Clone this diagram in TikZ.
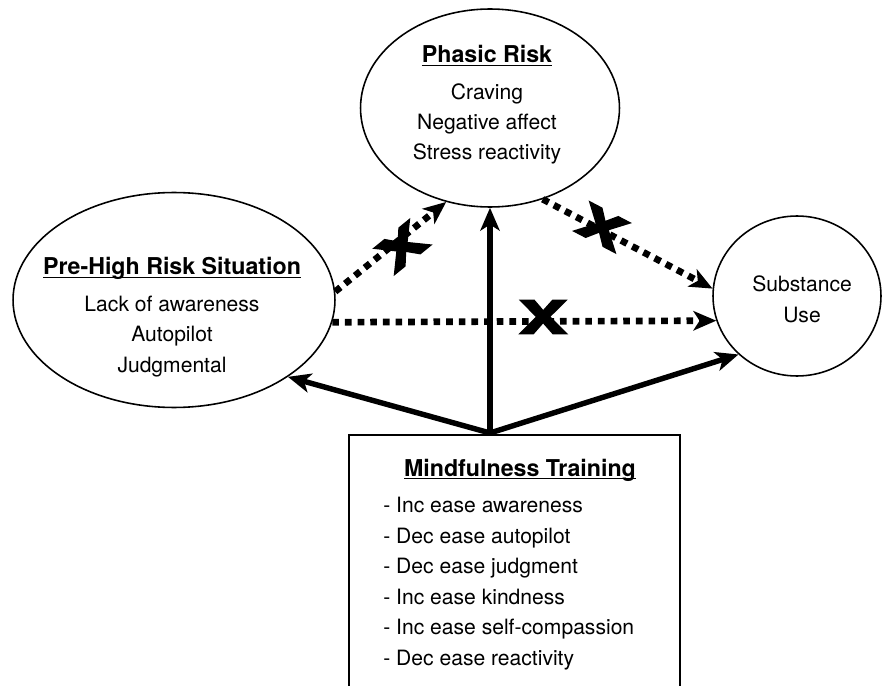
\documentclass[tikz,border=0pt]{standalone}
\usepackage{fontspec}
\setmainfont{TeX Gyre Heros}
\newfontfamily\crossfont[FakeBold=3]{TeX Gyre Heros}
\usepackage{graphicx}
\usepackage{tikz}
\usetikzlibrary{shapes.geometric, arrows.meta}
\newcommand{\ttl}[1]{\underline{\smash{#1}}}

\begin{document}
\begin{tikzpicture}[x=0.02cm, y=-0.02cm,
  every node/.style={font=\fontsize{12}{17.35}\selectfont, inner sep=0pt},
  oval/.style={draw, ellipse, line width=0.9pt, inner sep=0pt},
  titletext/.style={font=\fontsize{13.2}{16}\selectfont\bfseries, anchor=base},
  bodytext/.style={align=center, anchor=base},
  solidarrow/.style={line width=3.1pt, -{Stealth[length=13pt, width=11pt, inset=3.5pt]}},
  dotarrow/.style={line width=3.8pt, dash pattern=on 3.8pt off 3.4pt, -{Stealth[length=13pt, width=11pt, inset=3.5pt]}},
  cross/.style={font=\fontsize{26}{26}\selectfont\crossfont\bfseries}]
\useasboundingbox (0,0) rectangle (883,686);
\clip (0,0) rectangle (883,686);
% Ellipses and training box
\node[oval, minimum width=6.44cm, minimum height=4.30cm] (prehigh) at (174,300) {};
\node[oval, minimum width=5.18cm, minimum height=3.96cm] (phasic) at (490,108) {};
\node[oval, minimum width=3.36cm, minimum height=3.20cm] (subst) at (797,296) {};
\node[draw, line width=0.9pt, minimum width=6.62cm, minimum height=6cm, anchor=north] (mind) at (514.5,434) {};
% Texts (base = last line)
\node[titletext] (prehightitle) at (172,275) {\ttl{Pre-High Risk Situation}};
\node[bodytext] (prehighbody) at (172,372) {Lack of awareness\\Autopilot\\Judgmental};
\node[titletext] (phasictitle) at (487,63) {\ttl{Phasic Risk}};
\node[bodytext] (phasicbody) at (487,160) {Craving\\Negative affect\\Stress reactivity};
\node[bodytext] (substbody) at (802,322) {Substance\\Use};
\node[titletext] (mindtitle) at (520,476) {\ttl{Mindfulness Training}};
\node[align=left, anchor=base west] (mindbody) at (383,665) {- Inc ease awareness\\- Dec ease autopilot\\- Dec ease judgment\\- Inc ease kindness\\- Inc ease self-compassion\\- Dec ease reactivity};
% Solid arrows from the training box
\coordinate (hub) at (490,433);
\draw[solidarrow] (hub) -- (prehigh.-34);
\draw[solidarrow] (hub) -- (phasic.south);
\draw[solidarrow] (hub) -- (subst.225);
% Dotted (blocked) arrows
\draw[dotarrow] (prehigh.3) -- (phasic.-115);
\draw[dotarrow] (phasic.-60) -- (subst.175);
\draw[dotarrow] (prehigh.-8) -- (subst.197);
% Crosses
\node[cross, rotate=39] (cross1) at (402,247) {\scalebox{1.6}[1]{X}};
\node[cross, rotate=-27.6] (cross2) at (602,227) {\scalebox{1.6}[1]{X}};
\node[cross] (cross3) at (543,317) {\scalebox{1.6}[1]{X}};
\end{tikzpicture}
\end{document}
